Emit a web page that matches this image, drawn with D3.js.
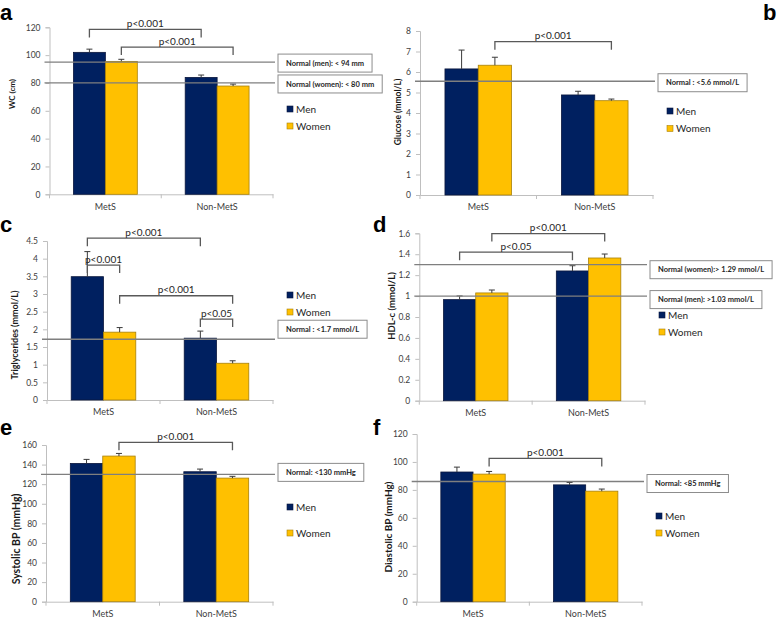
<!DOCTYPE html>
<html>
<head>
<meta charset="utf-8">
<script src="https://cdn.jsdelivr.net/npm/d3@7"></script>
<style>
  html, body { margin: 0; padding: 0; background: #fff; }
  svg { display: block; }
  text { font-family: Lato, "Open Sans", sans-serif; }
</style>
</head>
<body>
<svg id="chart" width="778" height="618"></svg>
<script>
// ---------- data ----------
const categories = ["MetS", "Non-MetS"];
const seriesNames = ["Men", "Women"];

// a: waist circumference
const wcMen = [102, 84];
const wcWomen = [95.5, 77.8];
const wcMenErr = [2.3, 1.7];
const wcWomenErr = [1.5, 1.4];
const wcTicks = [0, 20, 40, 60, 80, 100, 120];

// b: glucose
const gluMen = [6.15, 4.88];
const gluWomen = [6.33, 4.6];
const gluMenErr = [0.92, 0.18];
const gluWomenErr = [0.39, 0.08];
const gluTicks = [0, 1, 2, 3, 4, 5, 6, 7, 8];

// c: triglycerides
const tgMen = [3.49, 1.75];
const tgWomen = [1.92, 1.04];
const tgMenErr = [0.71, 0.2];
const tgWomenErr = [0.13, 0.07];
const tgTicks = [0, 0.5, 1, 1.5, 2, 2.5, 3, 3.5, 4, 4.5];
const tgTickLabels = ["0", "0.5", "1", "1.5", "2", "2.5", "3", "3.5", "4", "4.5"];

// d: HDL-c
const hdlMen = [0.966, 1.24];
const hdlWomen = [1.03, 1.364];
const hdlMenErr = [0.035, 0.05];
const hdlWomenErr = [0.028, 0.038];
const hdlTicks = [0, 0.2, 0.4, 0.6, 0.8, 1, 1.2, 1.4, 1.6];
const hdlTickLabels = ["0", "0.2", "0.4", "0.6", "0.8", "1", "1.2", "1.4", "1.6"];

// e: systolic BP
const sbpMen = [141.2, 132.7];
const sbpWomen = [148.7, 126.2];
const sbpMenErr = [4.1, 2.7];
const sbpWomenErr = [2.7, 1.8];
const sbpTicks = [0, 20, 40, 60, 80, 100, 120, 140, 160];

// f: diastolic BP
const dbpMen = [92.8, 83.6];
const dbpWomen = [91.3, 79.1];
const dbpMenErr = [3.5, 1.7];
const dbpWomenErr = [1.9, 1.5];
const dbpTicks = [0, 20, 40, 60, 80, 100, 120];

// reference lines [value, label]
const wcRefs = [[95, "Normal (men): < 94 mm"], [80, "Normal (women): < 80 mm"]];
const gluRefs = [[5.55, "Normal : <5.6 mmol/L"]];
const tgRefs = [[1.72, "Normal : <1.7 mmol/L"]];
const hdlRefs = [[1.3, "Normal (women):> 1.29 mmol/L"], [1.0, "Normal (men): >1.03 mmol/L"]];
const sbpRefs = [[130, "Normal: <130 mmHg"]];
const dbpRefs = [[86, "Normal: <85 mmHg"]];

// significance brackets [catA, seriesA, catB, seriesB, level, label]
const wcSig = [[0, 0, 1, 0, 118.5, "p<0.001"], [0, 1, 1, 1, 105.8, "p<0.001"]];
const gluSig = [[0, 1, 1, 1, 7.48, "p<0.001"]];
const tgSig = [[0, 0, 1, 0, 4.58, "p<0.001"], [0, 0, 0, 1, 3.82, "p<0.001"],
               [0, 1, 1, 1, 2.95, "p<0.001"], [1, 0, 1, 1, 2.29, "p<0.05"]];
const hdlSig = [[0, 1, 1, 1, 1.597, "p<0.001"], [0, 0, 1, 0, 1.42, "p<0.05"]];
const sbpSig = [[0, 1, 1, 1, 162.7, "p<0.001"]];
const dbpSig = [[0, 1, 1, 1, 102.5, "p<0.001"]];

// ---------- layout ----------
const panels = [
  { letter: "a", lx: 0, ly: 19.5, left: 49.5, right: 273, top: 27.3, bottom: 194.3, max: 120,
    men: wcMen, women: wcWomen, menErr: wcMenErr, womenErr: wcWomenErr, ticks: wcTicks,
    refs: wcRefs, refDy: [1, 1], sig: wcSig, title: "WC (cm)", tx: 12, ty: 94, tfs: 8,
    legY: 109, legGap: 17 },
  { letter: "b", lx: 763, ly: 19.5, left: 420, right: 653, top: 31, bottom: 195, max: 8,
    men: gluMen, women: gluWomen, menErr: gluMenErr, womenErr: gluWomenErr, ticks: gluTicks,
    refs: gluRefs, refDy: [1.5], sig: gluSig, title: "Glucose (mmol/L)", tx: 398, ty: 112, tfs: 8.5,
    legY: 111, legGap: 17.5 },
  { letter: "c", lx: 0, ly: 232, left: 47, right: 273, top: 241, bottom: 400, max: 4.5,
    men: tgMen, women: tgWomen, menErr: tgMenErr, womenErr: tgWomenErr, ticks: tgTicks, tickLabels: tgTickLabels,
    refs: tgRefs, refDy: [-10], sig: tgSig, title: "Triglycerides (mmol/L)", tx: 15, ty: 335, tfs: 9,
    legY: 295, legGap: 17 },
  { letter: "d", lx: 373, ly: 232, left: 419.3, right: 645, top: 233.3, bottom: 400.7, max: 1.6,
    men: hdlMen, women: hdlWomen, menErr: hdlMenErr, womenErr: hdlWomenErr, ticks: hdlTicks, tickLabels: hdlTickLabels,
    refs: hdlRefs, refDy: [5, 3.5], sig: hdlSig, title: "HDL-c (mmol/L)", tx: 392, ty: 306, tfs: 9.5,
    legY: 315, legGap: 17 },
  { letter: "e", lx: 0, ly: 435, left: 46, right: 273, top: 445, bottom: 601.7, max: 160,
    men: sbpMen, women: sbpWomen, menErr: sbpMenErr, womenErr: sbpWomenErr, ticks: sbpTicks,
    refs: sbpRefs, refDy: [-2], sig: sbpSig, title: "Systolic BP (mmHg)", tx: 16, ty: 539, tfs: 10.5,
    legY: 507, legGap: 26 },
  { letter: "f", lx: 373, ly: 435, left: 416.7, right: 642, top: 434, bottom: 601.7, max: 120,
    men: dbpMen, women: dbpWomen, menErr: dbpMenErr, womenErr: dbpWomenErr, ticks: dbpTicks,
    refs: dbpRefs, refDy: [2], sig: dbpSig, title: "Diastolic BP (mmHg)", tx: 388, ty: 527, tfs: 10,
    legY: 516, legGap: 17 }
];

const colors = { Men: "#002060", Women: "#FFC000" };
const strokes = { Men: "#0b173d", Women: "#a8800a" };
const axisColor = "#bfbfbf";
const textColor = "#404040";

const svg = d3.select("#chart");

panels.forEach(p => {
  const g = svg.append("g");
  const x = d3.scaleBand().domain(categories).range([p.left, p.right]).padding(0);
  const xs = d3.scaleBand().domain(seriesNames).range([0, x.bandwidth()]).paddingInner(0).paddingOuter(0.75);
  const y = d3.scaleLinear().domain([0, p.max]).range([p.bottom, p.top]);

  // panel letter
  svg.append("text").attr("x", p.lx).attr("y", p.ly)
    .style("font-family", "'Liberation Sans', Arial, sans-serif")
    .style("font-weight", "bold").style("font-size", "22px").attr("fill", "#000")
    .text(p.letter);

  // y axis
  const yAxis = d3.axisLeft(y).tickValues(p.ticks).tickSize(4).tickPadding(5)
    .tickFormat((d, i) => p.tickLabels ? p.tickLabels[i] : d3.format("d")(d));
  const ya = g.append("g").attr("transform", `translate(${p.left},0)`).call(yAxis);
  ya.select(".domain").attr("stroke", axisColor);
  ya.selectAll(".tick line").attr("stroke", axisColor);
  ya.selectAll(".tick text").attr("fill", textColor).style("font-size", "8.5px")
    .style("font-family", "Lato, sans-serif");

  // x axis
  const xAxis = d3.axisBottom(x).tickSize(0).tickPadding(9);
  const xa = g.append("g").attr("transform", `translate(0,${p.bottom})`).call(xAxis);
  xa.select(".domain").attr("stroke", axisColor);
  xa.selectAll(".tick text").attr("fill", textColor).style("font-size", "9px")
    .style("font-family", "Lato, sans-serif");
  // category separators
  const seps = [p.left, ...categories.slice(1).map(c => x(c)), p.right];
  g.selectAll(".sep").data(seps).join("line")
    .attr("x1", d => d).attr("x2", d => d)
    .attr("y1", p.bottom).attr("y2", p.bottom + 4)
    .attr("stroke", axisColor);

  // bars
  const rows = [];
  categories.forEach((c, i) => {
    rows.push({ cat: c, s: "Men", v: p.men[i], e: p.menErr[i] });
    rows.push({ cat: c, s: "Women", v: p.women[i], e: p.womenErr[i] });
  });
  g.selectAll(".bar").data(rows).join("rect")
    .attr("x", d => x(d.cat) + xs(d.s))
    .attr("width", xs.bandwidth())
    .attr("y", d => y(d.v))
    .attr("height", d => y(0) - y(d.v))
    .attr("fill", d => colors[d.s])
    .attr("stroke", d => strokes[d.s]).attr("stroke-width", 0.8);

  // error bars (upper)
  const ex = d => x(d.cat) + xs(d.s) + xs.bandwidth() / 2;
  g.selectAll(".err").data(rows).join("line")
    .attr("x1", ex).attr("x2", ex)
    .attr("y1", d => y(d.v)).attr("y2", d => y(d.v + d.e))
    .attr("stroke", "#3a3a3a").attr("stroke-width", 1);
  g.selectAll(".cap").data(rows).join("line")
    .attr("x1", d => ex(d) - 3).attr("x2", d => ex(d) + 3)
    .attr("y1", d => y(d.v + d.e)).attr("y2", d => y(d.v + d.e))
    .attr("stroke", "#3a3a3a").attr("stroke-width", 1);

  // reference lines + boxes
  p.refs.forEach((r, i) => {
    const yy = y(r[0]);
    g.append("line").attr("x1", p.left - 5).attr("x2", p.right + 2)
      .attr("y1", yy).attr("y2", yy)
      .attr("stroke", "#7f7f7f").attr("stroke-width", 1.3);
    const bx = p.right + 5;
    const cy = yy + p.refDy[i];
    const box = g.append("rect").attr("x", bx).attr("y", cy - 9).attr("height", 18)
      .attr("fill", "#fff").attr("stroke", "#8c8c8c").attr("stroke-width", 1);
    const t = g.append("text").attr("x", bx + 8).attr("y", cy + 2.6)
      .attr("fill", "#262626").style("font-size", "7.5px").style("font-weight", "bold")
      .text(r[1]);
    const w = t.node().getComputedTextLength();
    box.attr("width", w + 16);
  });

  // significance brackets
  p.sig.forEach(s => {
    const xA = x(categories[s[0]]) + xs(seriesNames[s[1]]) + xs.bandwidth() / 2;
    const xB = x(categories[s[2]]) + xs(seriesNames[s[3]]) + xs.bandwidth() / 2;
    const yy = y(s[4]);
    g.append("path")
      .attr("d", `M${xA},${yy + 8}V${yy}H${xB}V${yy + 8}`)
      .attr("fill", "none").attr("stroke", "#595959").attr("stroke-width", 1.3);
    g.append("text").attr("x", (xA + xB) / 2).attr("y", yy - 2.5)
      .attr("text-anchor", "middle").attr("fill", "#262626")
      .style("font-size", "10px").text(s[5]);
  });

  // legend
  const lx = p.right + 14;
  seriesNames.forEach((s, i) => {
    const ly = p.legY + i * p.legGap;
    g.append("rect").attr("x", lx).attr("y", ly - 3).attr("width", 6).attr("height", 6)
      .attr("fill", colors[s]).attr("stroke", strokes[s]).attr("stroke-width", 0.6);
    g.append("text").attr("x", lx + 9).attr("y", ly + 3.5)
      .attr("fill", "#262626").style("font-size", "10px").text(s);
  });

  // y title
  g.append("text")
    .attr("transform", `translate(${p.tx},${p.ty}) rotate(-90)`)
    .attr("text-anchor", "middle").attr("dy", "0.35em")
    .attr("fill", "#1a1a1a").style("font-size", p.tfs + "px").style("font-weight", "bold")
    .text(p.title);
});
</script>
</body>
</html>
